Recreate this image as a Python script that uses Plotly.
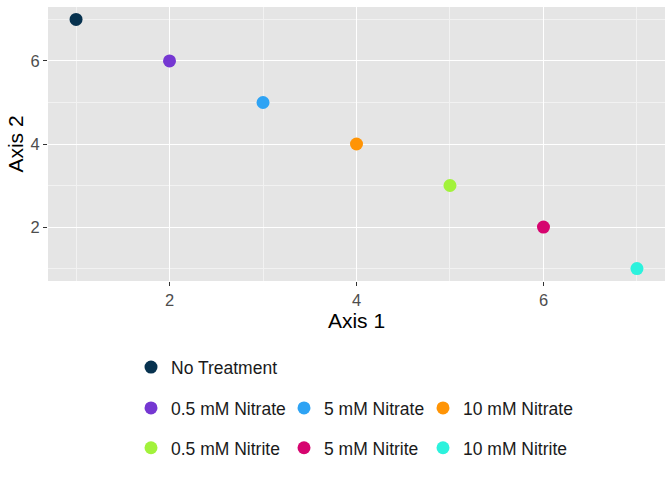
import plotly.graph_objects as go

treatments = ["No Treatment", "0.5 mM Nitrate", "5 mM Nitrate", "10 mM Nitrate",
              "0.5 mM Nitrite", "5 mM Nitrite", "10 mM Nitrite"]
axis1 = [1, 2, 3, 4, 5, 6, 7]
axis2 = [7, 6, 5, 4, 3, 2, 1]
colors = ["#07324f", "#7537d2", "#2ea3f4", "#ff9405", "#a2f23b", "#d6046f", "#2cf2dd"]

# legend layout (pixel positions of legend markers, row centres)
leg_marker_x = [151, 151, 304, 443, 151, 304, 443]
leg_row_y = [368, 409, 409, 409, 449, 449, 449]

W, H = 672, 480
L, R, T, B = 48, 7, 6.5, 198.5
pw, ph = W - L - R, H - T - B

fig = go.Figure()
for i, (name, x, y, c) in enumerate(zip(treatments, axis1, axis2, colors)):
    lid = "legend" if i == 0 else f"legend{i+1}"
    fig.add_trace(go.Scatter(x=[x], y=[y], mode="markers", name=name,
                             marker=dict(color=c, size=13),
                             legend=lid, showlegend=True))
    lx = (leg_marker_x[i] - 20 - L) / pw
    ly = 1 - (leg_row_y[i] - T) / ph
    fig.layout[lid] = dict(x=lx, y=ly, xanchor="left", yanchor="middle",
                           bgcolor="rgba(0,0,0,0)", borderwidth=0,
                           font=dict(family="Liberation Sans, Arial", size=17.5, color="#1a1a1a"),
                           orientation="v")

fig.update_layout(
    width=W, height=H,
    margin=dict(l=L, r=R, t=T, b=B),
    paper_bgcolor="white", plot_bgcolor="#e5e5e5",
    font=dict(family="Liberation Sans, Arial"),
    xaxis=dict(range=[0.7, 7.3], tickvals=[2, 4, 6], showgrid=True, gridcolor="white",
               gridwidth=1.1, zeroline=False, ticks="outside", ticklen=4, tickcolor="#333333",
               tickfont=dict(size=16.5, color="#4d4d4d"),
               minor=dict(tickvals=[1, 3, 5, 7], showgrid=True, gridcolor="#f2f2f2", gridwidth=0.6),
               title=dict(text="Axis 1", font=dict(size=21, color="black"), standoff=3)),
    yaxis=dict(range=[0.7, 7.3], tickvals=[2, 4, 6], showgrid=True, gridcolor="white",
               gridwidth=1.1, zeroline=False, ticks="outside", ticklen=4, tickcolor="#333333",
               tickfont=dict(size=16.5, color="#4d4d4d"),
               minor=dict(tickvals=[1, 3, 5, 7], showgrid=True, gridcolor="#f2f2f2", gridwidth=0.6),
               title=dict(text="Axis 2", font=dict(size=21, color="black"), standoff=1)),
)

fig.write_html("out.html")
